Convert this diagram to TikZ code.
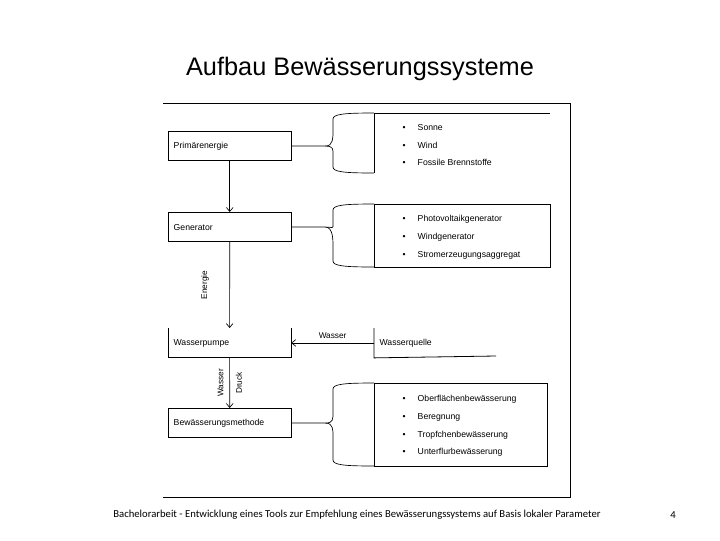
\documentclass[tikz,border=0pt]{standalone}
\usepackage{fontspec}
\setmainfont{Carlito}
\newfontfamily\diafont{Liberation Sans}
\usetikzlibrary{positioning,arrows.meta}

\begin{document}
\begin{tikzpicture}[x=0.75pt,y=-0.75pt,
    box/.style={text width=84pt,minimum height=22pt,anchor=north west,inner sep=4pt,align=left,font=\diafont\fontsize{6.5}{7}\selectfont},
    frame/.style={draw,black,line width=0.6pt},
    item/.style={anchor=west,font=\diafont\fontsize{6.5}{7}\selectfont},
    lbl/.style={font=\diafont\fontsize{6.2}{7}\selectfont},
    arr/.style={->,>={Straight Barb[length=3pt,width=5pt]},line width=0.5pt},
    brace/.style={line width=0.5pt}]
    \useasboundingbox (0,0) rectangle (720,540);

    % title and footer
    \node (title) at (360,69) {\diafont\fontsize{19}{23}\selectfont Aufbau Bewässerungssysteme};
    \node (foot) at (357,515) {\fontsize{8}{10}\selectfont Bachelorarbeit - Entwicklung eines Tools zur Empfehlung eines Bewässerungssystems auf Basis lokaler Parameter};
    \node (page) at (673,515) {\fontsize{8}{10}\selectfont 4};

    % outer frame
    \draw[line width=0.6pt] (163,103) -- (570,103) -- (570,497) -- (163,497);

    % left column
    \node[box,frame] (prim) at (168,131) {Primärenergie};
    \node[box,frame] (gen) at (168,212) {Generator};
    \node[box] (pump) at (168,328) {Wasserpumpe};
    \draw[line width=0.6pt] (pump.north west) -- (pump.south west) -- (pump.south east) -- (pump.north east);
    \node[box,frame] (meth) at (168,408) {Bewässerungsmethode};

    \draw[arr] (prim) -- (gen);
    \draw[arr] (gen) -- node[lbl,rotate=90,anchor=south,xshift=0pt,yshift=12pt] {Energie} (pump);
    \draw[arr] (pump) -- node[lbl,rotate=90,anchor=south,yshift=1pt] {Wasser}
                         node[lbl,rotate=90,anchor=north,yshift=-1pt] {Druck} (meth);

    % right column
    \coordinate (s1) at (374,113);
    \draw[line width=0.6pt] (550,113) -- (s1) -- (374,173);
    \node[item] (i11) at (398,128) {\textbullet\hspace{9pt}Sonne};
    \node[item] (i12) at (398,145) {\textbullet\hspace{9pt}Wind};
    \node[item] (i13) at (398,162) {\textbullet\hspace{9pt}Fossile Brennstoffe};

    \draw[line width=0.6pt] (374,204) rectangle (550,267);
    \node[item] (i21) at (398,219) {\textbullet\hspace{9pt}Photovoltaikgenerator};
    \node[item] (i22) at (398,237) {\textbullet\hspace{9pt}Windgenerator};
    \node[item] (i23) at (398,255) {\textbullet\hspace{9pt}Stromerzeugungsaggregat};

    \node[box] (quelle) at (374,328) {Wasserquelle};
    \draw[line width=0.6pt] (quelle.north west) -- (quelle.south west) -- (496,356);
    \draw[arr] (quelle.west) -- node[lbl,above] {Wasser} (pump.east);

    \draw[line width=0.6pt] (374,383) rectangle (547,466);
    \node[item] (i41) at (398,399) {\textbullet\hspace{9pt}Oberflächenbewässerung};
    \node[item] (i42) at (398,417) {\textbullet\hspace{9pt}Beregnung};
    \node[item] (i43) at (398,435) {\textbullet\hspace{9pt}Tropfchenbewässerung};
    \node[item] (i44) at (398,452) {\textbullet\hspace{9pt}Unterflurbewässerung};

    % braces
    \foreach \src/\t/\b in {prim/113/173,gen/204/267,meth/383/466}{
      \draw[brace] (\src.east) -- ++(34,0) coordinate (tip)
        .. controls ++(8,0) and (333,{(\t+\b)/2-6}) .. (333,{(\t+\b)/2-12})
        -- (333,\t+6) .. controls (333,\t+1) and (345,\t) .. (374,\t);
      \draw[brace] (tip) .. controls ++(8,0) and (333,{(\t+\b)/2+6}) .. (333,{(\t+\b)/2+12})
        -- (333,\b-6) .. controls (333,\b-1) and (345,\b) .. (374,\b);
    }
\end{tikzpicture}
\end{document}
